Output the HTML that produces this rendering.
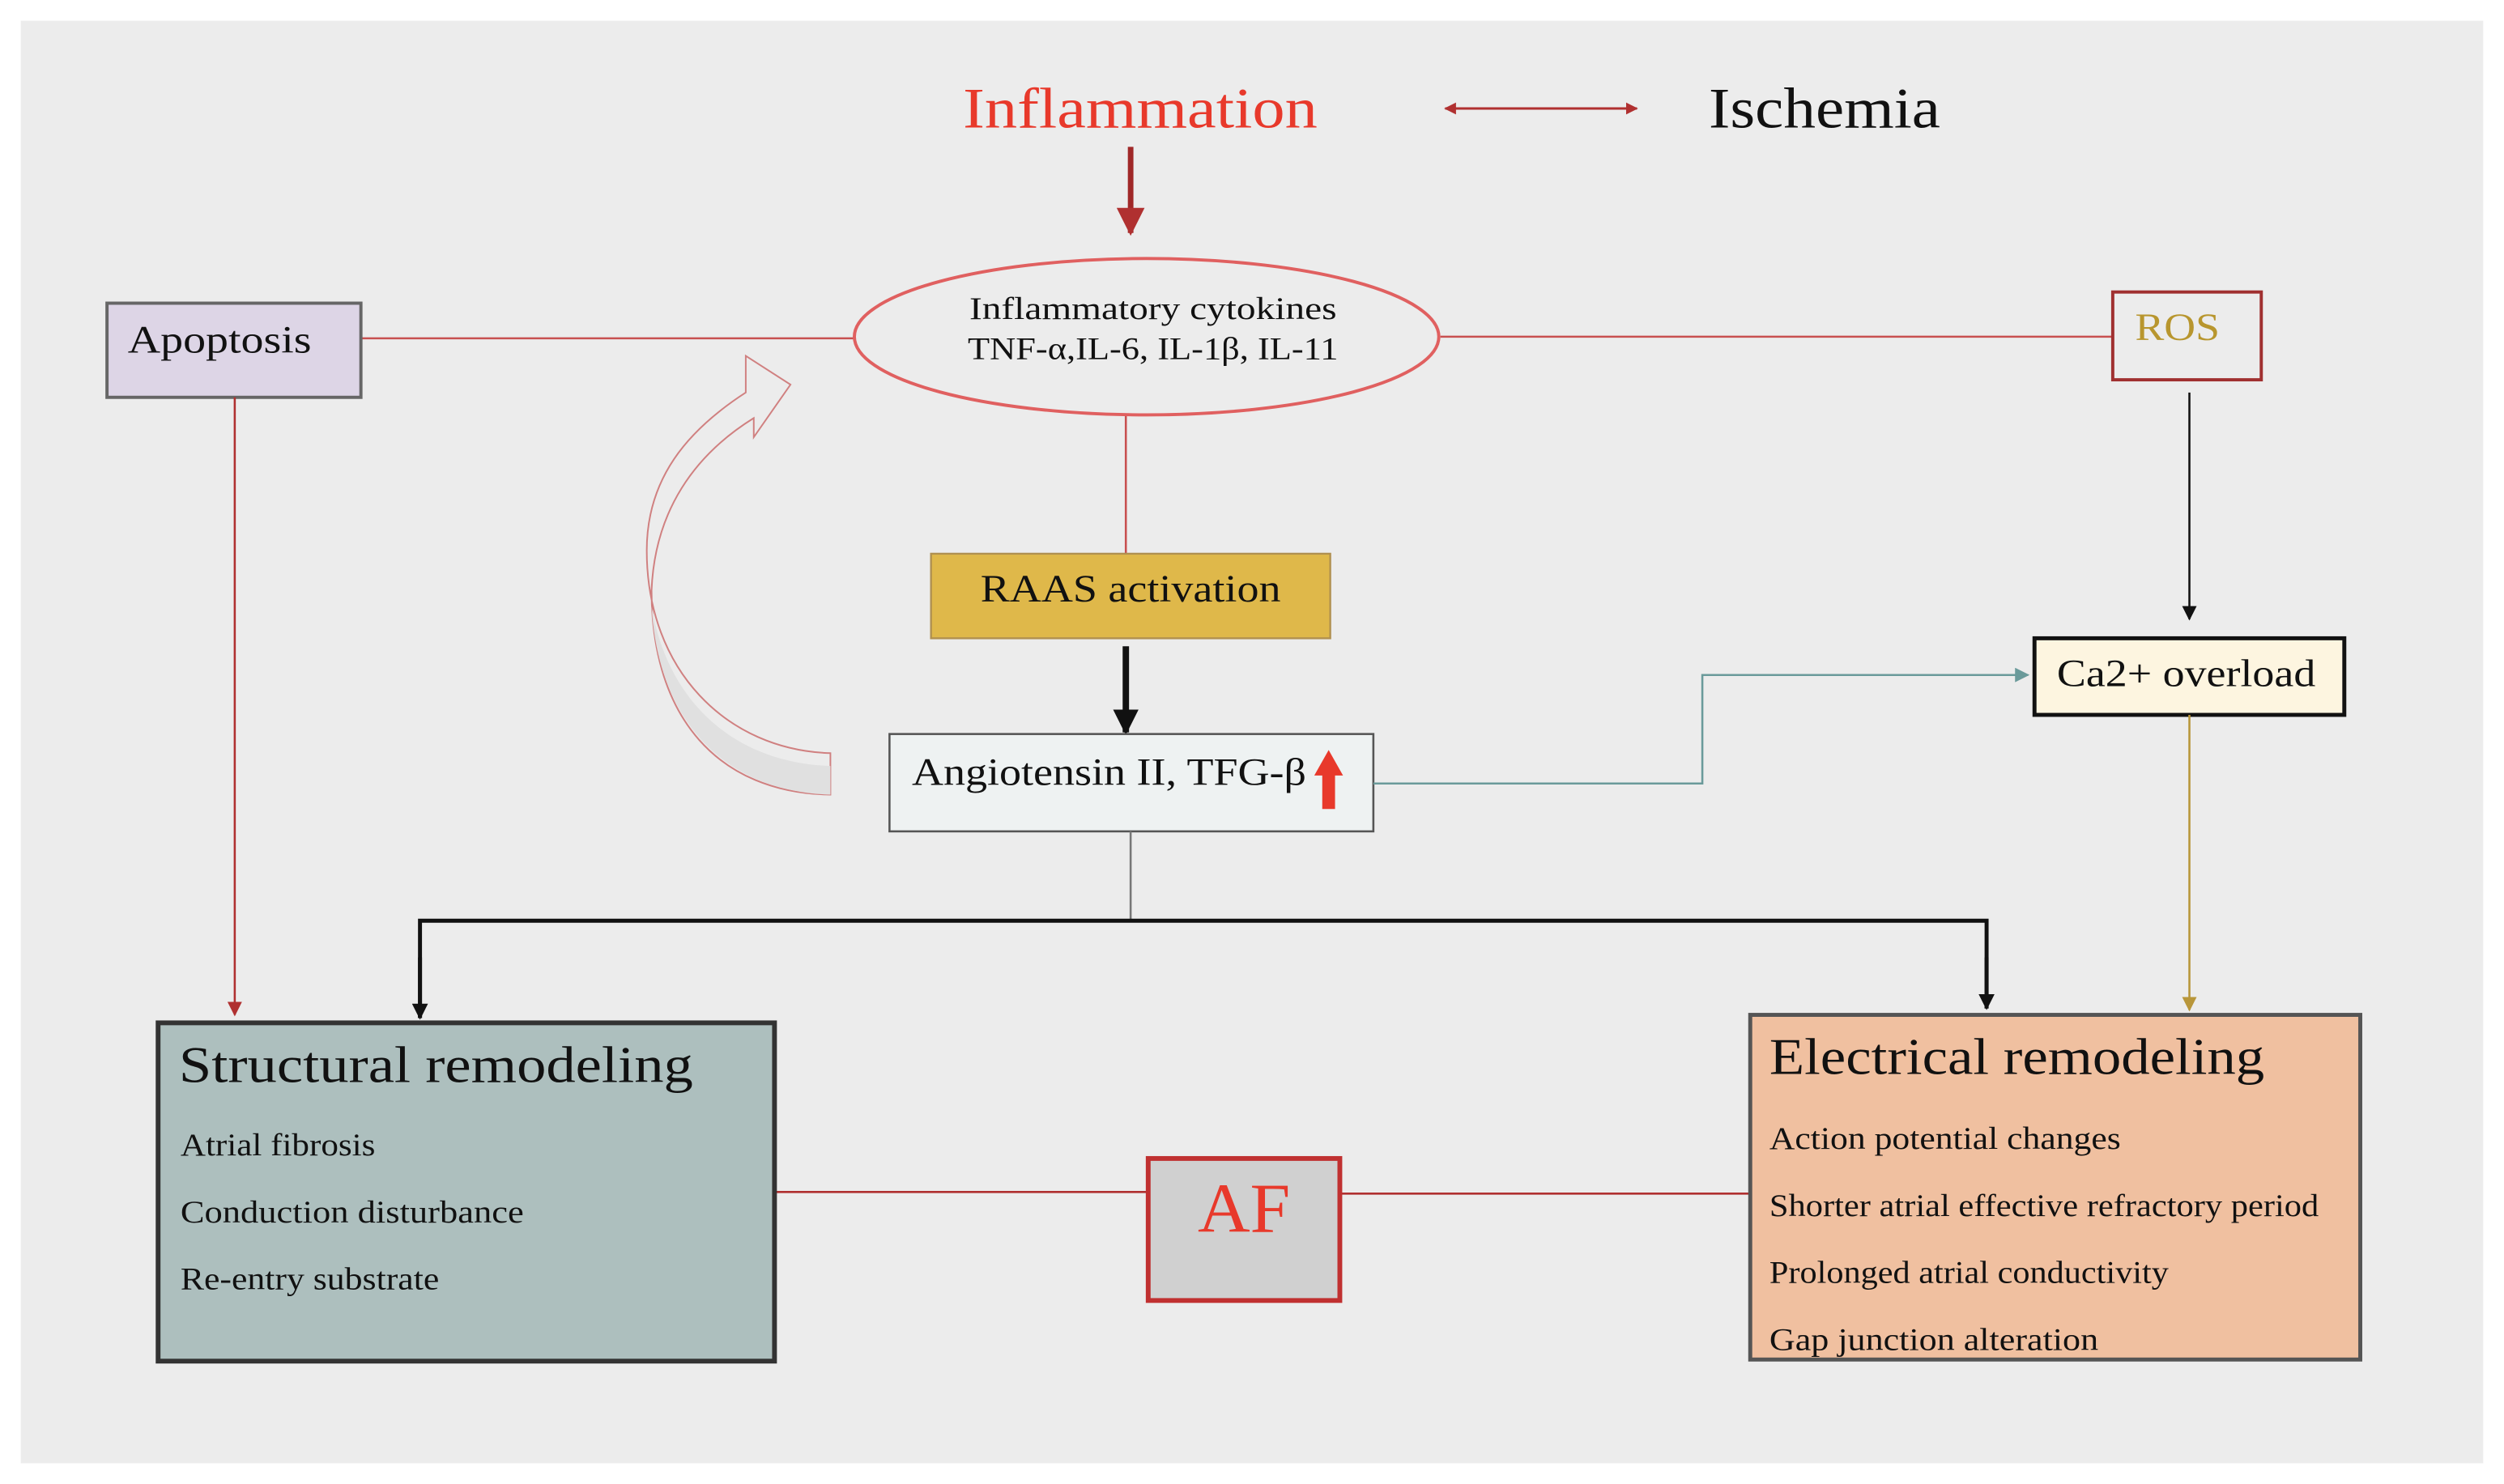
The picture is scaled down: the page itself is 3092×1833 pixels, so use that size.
<!DOCTYPE html>
<html><head><meta charset="utf-8"><style>
html,body{margin:0;padding:0;background:#fff;}
svg{display:block;}
text{font-family:"Liberation Serif",serif;}
</style></head><body>
<svg width="3092" height="1833" viewBox="0 0 1568 930" preserveAspectRatio="none" xmlns="http://www.w3.org/2000/svg">
<defs>
<marker id="ar" viewBox="0 0 10 10" refX="9" refY="5" markerWidth="5" markerHeight="5" orient="auto-start-reverse"><path d="M0,0L10,5L0,10Z" fill="#b03030"/></marker>
<marker id="ab" viewBox="0 0 10 10" refX="9" refY="5" markerWidth="4" markerHeight="4" orient="auto"><path d="M0,0L10,5L0,10Z" fill="#111"/></marker>
<marker id="ab2" viewBox="0 0 10 10" refX="9" refY="5" markerWidth="7" markerHeight="7" orient="auto"><path d="M0,0L10,5L0,10Z" fill="#111"/></marker>
<marker id="at" viewBox="0 0 10 10" refX="9" refY="5" markerWidth="7" markerHeight="7" orient="auto"><path d="M0,0L10,5L0,10Z" fill="#6a9a9a"/></marker>
<marker id="ag" viewBox="0 0 10 10" refX="9" refY="5" markerWidth="7" markerHeight="7" orient="auto"><path d="M0,0L10,5L0,10Z" fill="#b8963a"/></marker>
<marker id="ar2" viewBox="0 0 10 10" refX="9" refY="5" markerWidth="7" markerHeight="7" orient="auto"><path d="M0,0L10,5L0,10Z" fill="#b03030"/></marker>
</defs>
<rect x="13" y="13" width="1542" height="904" fill="#ececec"/>

<text x="714" y="80" font-size="36" fill="#e8392b" text-anchor="middle" textLength="222" lengthAdjust="spacingAndGlyphs">Inflammation</text>
<line x1="905" y1="68" x2="1025" y2="68" stroke="#b03030" stroke-width="1.5" marker-start="url(#ar)" marker-end="url(#ar)"/>
<text x="1070" y="80" font-size="36" fill="#111" textLength="145" lengthAdjust="spacingAndGlyphs">Ischemia</text>
<line x1="708" y1="92" x2="708" y2="146" stroke="#a02828" stroke-width="3.5" marker-end="url(#ar)"/>

<line x1="226" y1="212" x2="535" y2="212" stroke="#c85050" stroke-width="1.3"/>
<line x1="902" y1="211" x2="1323" y2="211" stroke="#c85050" stroke-width="1.3"/>
<line x1="705" y1="260" x2="705" y2="347" stroke="#c85050" stroke-width="1.3"/>
<ellipse cx="718" cy="211" rx="183" ry="49" fill="none" stroke="#e06060" stroke-width="2"/>
<text x="722" y="200" font-size="20" fill="#111" text-anchor="middle" textLength="230" lengthAdjust="spacingAndGlyphs">Inflammatory cytokines</text>
<text x="722" y="225" font-size="20" fill="#111" text-anchor="middle" textLength="232" lengthAdjust="spacingAndGlyphs">TNF-α,IL-6, IL-1β, IL-11</text>

<rect x="67" y="190" width="159" height="59" fill="#ddd5e6" stroke="#666" stroke-width="2"/>
<text x="80" y="221" font-size="24" fill="#111" textLength="115" lengthAdjust="spacingAndGlyphs">Apoptosis</text>

<rect x="1323" y="183" width="93" height="55" fill="#ececec" stroke="#a03030" stroke-width="2"/>
<text x="1337" y="213" font-size="24" fill="#b8962e" textLength="53" lengthAdjust="spacingAndGlyphs">ROS</text>

<rect x="583" y="347" width="250" height="53" fill="#dfb84a" stroke="#b09050" stroke-width="1.2"/>
<text x="708" y="377" font-size="24" fill="#111" text-anchor="middle" textLength="188" lengthAdjust="spacingAndGlyphs">RAAS activation</text>
<line x1="705" y1="405" x2="705" y2="459" stroke="#111" stroke-width="4" marker-end="url(#ab)"/>

<path d="M520,472 C455,470 405,420 405,345 C405,300 430,270 467,246 L467,223 L495,241 L472,274 L472,262 C435,285 410,320 408,370 C408,450 450,497 520,498 Z" fill="#ececec" stroke="#d08080" stroke-width="1"/>
<path d="M520,480 C460,478 418,440 408,380 C412,450 452,496 520,498 Z" fill="#e0e0e0"/>

<rect x="557" y="460" width="303" height="61" fill="#eef2f2" stroke="#555" stroke-width="1.3"/>
<text x="571" y="492" font-size="24" fill="#111" textLength="247" lengthAdjust="spacingAndGlyphs">Angiotensin II, TFG-β</text>
<path d="M828,507 L828,486 L823,486 L832,470 L841,486 L836,486 L836,507 Z" fill="#e8392b"/>

<polyline points="860,491 1066,491 1066,423 1270,423" fill="none" stroke="#6a9a9a" stroke-width="1.3" marker-end="url(#at)"/>
<line x1="1371" y1="246" x2="1371" y2="388" stroke="#111" stroke-width="1.3" marker-end="url(#ab2)"/>
<rect x="1274" y="400" width="194" height="48" fill="#fdf5e0" stroke="#111" stroke-width="2.5"/>
<text x="1369" y="430" font-size="24" fill="#111" text-anchor="middle" textLength="162" lengthAdjust="spacingAndGlyphs">Ca2+ overload</text>
<line x1="1371" y1="448" x2="1371" y2="633" stroke="#b8963a" stroke-width="1.3" marker-end="url(#ag)"/>

<line x1="708" y1="521" x2="708" y2="577" stroke="#777" stroke-width="1.3"/>
<polyline points="263,638 263,577 1244,577 1244,632" fill="none" stroke="#111" stroke-width="2.5"/>
<line x1="263" y1="600" x2="263" y2="638" stroke="#111" stroke-width="2.5" marker-end="url(#ab)"/>
<line x1="1244" y1="600" x2="1244" y2="632" stroke="#111" stroke-width="2.5" marker-end="url(#ab)"/>
<line x1="147" y1="249" x2="147" y2="636" stroke="#b03030" stroke-width="1.3" marker-end="url(#ar2)"/>

<line x1="485" y1="747" x2="719" y2="747" stroke="#b03030" stroke-width="1.3"/>
<line x1="839" y1="748" x2="1096" y2="748" stroke="#b03030" stroke-width="1.3"/>

<rect x="99" y="641" width="386" height="212" fill="#adbfbe" stroke="#333" stroke-width="3"/>
<text x="112" y="678" font-size="32" fill="#111" textLength="322" lengthAdjust="spacingAndGlyphs">Structural remodeling</text>
<text x="113" y="724" font-size="20" fill="#111" textLength="122" lengthAdjust="spacingAndGlyphs">Atrial fibrosis</text>
<text x="113" y="766" font-size="20" fill="#111" textLength="215" lengthAdjust="spacingAndGlyphs">Conduction disturbance</text>
<text x="113" y="808" font-size="20" fill="#111" textLength="162" lengthAdjust="spacingAndGlyphs">Re-entry substrate</text>

<rect x="1096" y="636" width="382" height="216" fill="#f0c0a0" stroke="#555" stroke-width="2.5"/>
<text x="1108" y="673" font-size="32" fill="#111" textLength="310" lengthAdjust="spacingAndGlyphs">Electrical remodeling</text>
<text x="1108" y="720" font-size="20" fill="#111" textLength="220" lengthAdjust="spacingAndGlyphs">Action potential changes</text>
<text x="1108" y="762" font-size="20" fill="#111" textLength="344" lengthAdjust="spacingAndGlyphs">Shorter atrial effective refractory period</text>
<text x="1108" y="804" font-size="20" fill="#111" textLength="250" lengthAdjust="spacingAndGlyphs">Prolonged atrial conductivity</text>
<text x="1108" y="846" font-size="20" fill="#111" textLength="206" lengthAdjust="spacingAndGlyphs">Gap junction alteration</text>

<rect x="719" y="726" width="120" height="89" fill="#d0d0d0" stroke="#c03030" stroke-width="3"/>
<text x="779" y="772" font-size="44" fill="#e8392b" text-anchor="middle" textLength="58" lengthAdjust="spacingAndGlyphs">AF</text>
</svg>
</body></html>
